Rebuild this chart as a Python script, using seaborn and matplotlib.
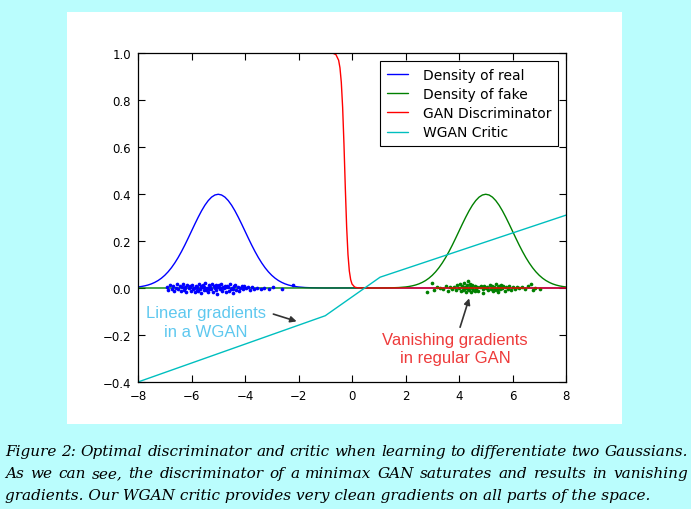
import matplotlib
matplotlib.use('Agg')
import matplotlib.pyplot as plt
import seaborn as sns
from matplotlib.patches import Rectangle

# ---------------- data ----------------
real_x = [-8.0, -7.875, -7.75, -7.625, -7.5, -7.375, -7.25, -7.125, -7.0, -6.875, -6.75, -6.625,
          -6.5, -6.375, -6.25, -6.125, -6.0, -5.875, -5.75, -5.625, -5.5, -5.375, -5.25, -5.125,
          -5.0, -4.875, -4.75, -4.625, -4.5, -4.375, -4.25, -4.125, -4.0, -3.875, -3.75, -3.625,
          -3.5, -3.375, -3.25, -3.125, -3.0, -2.875, -2.75, -2.625, -2.5, -2.375, -2.25, -2.125,
          -2.0, -1.75, -1.5, -1.25, -1.0, 8.0]
real_y = [0.0044, 0.0064, 0.0091, 0.0127, 0.0175, 0.0238, 0.0317, 0.0417, 0.0540, 0.0688, 0.0863, 0.1066,
          0.1295, 0.1550, 0.1826, 0.2119, 0.2420, 0.2721, 0.3011, 0.3282, 0.3521, 0.3718, 0.3867, 0.3958,
          0.3989, 0.3958, 0.3867, 0.3718, 0.3521, 0.3282, 0.3011, 0.2721, 0.2420, 0.2119, 0.1826, 0.1550,
          0.1295, 0.1066, 0.0863, 0.0688, 0.0540, 0.0417, 0.0317, 0.0238, 0.0175, 0.0127, 0.0091, 0.0064,
          0.0044, 0.0020, 0.0009, 0.0004, 0.0001, 0.0]

fake_x = [-8.0, 1.0, 1.25, 1.5, 1.75, 2.0, 2.125, 2.25, 2.375, 2.5, 2.625, 2.75, 2.875,
          3.0, 3.125, 3.25, 3.375, 3.5, 3.625, 3.75, 3.875, 4.0, 4.125, 4.25, 4.375,
          4.5, 4.625, 4.75, 4.875, 5.0, 5.125, 5.25, 5.375, 5.5, 5.625, 5.75, 5.875,
          6.0, 6.125, 6.25, 6.375, 6.5, 6.625, 6.75, 6.875, 7.0, 7.125, 7.25, 7.375,
          7.5, 7.625, 7.75, 7.875, 8.0]
fake_y = [0.0, 0.0001, 0.0004, 0.0009, 0.0020, 0.0044, 0.0064, 0.0091, 0.0127, 0.0175, 0.0238, 0.0317, 0.0417,
          0.0540, 0.0688, 0.0863, 0.1066, 0.1295, 0.1550, 0.1826, 0.2119, 0.2420, 0.2721, 0.3011, 0.3282,
          0.3521, 0.3718, 0.3867, 0.3958, 0.3989, 0.3958, 0.3867, 0.3718, 0.3521, 0.3282, 0.3011, 0.2721,
          0.2420, 0.2119, 0.1826, 0.1550, 0.1295, 0.1066, 0.0863, 0.0688, 0.0540, 0.0417, 0.0317, 0.0238,
          0.0175, 0.0127, 0.0091, 0.0064, 0.0044]

disc_x = [-8.0, -1.0, -0.8, -0.7, -0.6, -0.5, -0.45, -0.4, -0.35, -0.3, -0.25, -0.2, -0.15, -0.1, -0.05,
          0.0, 0.1, 0.2, 0.4, 8.0]
disc_y = [1.0, 1.0, 0.9996, 0.9984, 0.9930, 0.9692, 0.9370, 0.8754, 0.7685, 0.6106, 0.4256, 0.2592, 0.1419,
          0.0724, 0.0356, 0.0171, 0.0039, 0.0009, 0.0, 0.0]

critic_x = [-8.0, -1.0, 1.05, 8.0]
critic_y = [-0.40, -0.118, 0.046, 0.31]

real_samples = [
    (-6.93, 0.004), (-6.86, -0.008), (-6.80, 0.012), (-6.74, -0.003), (-6.69, 0.009), (-6.64, -0.014),
    (-6.58, 0.002), (-6.53, 0.015), (-6.49, -0.006), (-6.44, 0.007), (-6.40, -0.011), (-6.36, 0.003),
    (-6.31, 0.018), (-6.27, -0.009), (-6.23, 0.005), (-6.19, -0.017), (-6.15, 0.011), (-6.11, -0.002),
    (-6.07, 0.008), (-6.03, -0.013), (-5.99, 0.014), (-5.95, -0.005), (-5.92, 0.001), (-5.88, -0.019),
    (-5.84, 0.010), (-5.81, 0.006), (-5.77, -0.012), (-5.73, 0.016), (-5.70, -0.004), (-5.66, 0.009),
    (-5.63, -0.022), (-5.59, 0.003), (-5.56, 0.013), (-5.52, -0.007), (-5.49, 0.020), (-5.45, -0.010),
    (-5.42, 0.002), (-5.38, -0.015), (-5.35, 0.011), (-5.31, 0.005), (-5.28, -0.003), (-5.24, 0.017),
    (-5.21, -0.018), (-5.17, 0.007), (-5.14, 0.000), (-5.10, -0.009), (-5.07, 0.012), (-5.03, -0.025),
    (-5.00, 0.006), (-4.96, 0.014), (-4.93, -0.006), (-4.89, 0.019), (-4.86, -0.012), (-4.82, 0.004),
    (-4.79, -0.001), (-4.75, 0.010), (-4.71, -0.016), (-4.68, 0.008), (-4.64, 0.003), (-4.60, -0.011),
    (-4.56, 0.015), (-4.52, -0.004), (-4.48, 0.002), (-4.44, -0.020), (-4.40, 0.009), (-4.36, 0.012),
    (-4.32, -0.007), (-4.27, 0.005), (-4.23, -0.013), (-4.18, 0.001), (-4.13, 0.007), (-4.08, -0.005),
    (-4.02, 0.010), (-3.96, -0.002), (-3.90, 0.004), (-3.83, -0.008), (-3.75, 0.006), (-3.66, -0.003),
    (-3.55, 0.002), (-3.42, -0.006), (-3.28, 0.001), (-3.10, -0.004), (-2.95, 0.003), (-2.63, -0.003),
    (-2.20, 0.014), (-6.05, 0.004), (-5.80, -0.008), (-5.55, 0.006), (-5.33, -0.005), (-5.12, 0.003),
    (-4.90, -0.002), (-4.70, 0.005), (-4.45, -0.003), (-6.25, -0.002), (-5.02, 0.009),
]

fake_samples = [
    (2.82, -0.017), (2.98, 0.020), (3.05, -0.008), (3.18, 0.004), (3.30, 0.002), (3.42, -0.006),
    (3.50, 0.008), (3.58, -0.012), (3.66, 0.003), (3.74, -0.004), (3.82, 0.006), (3.88, -0.010),
    (3.94, 0.012), (4.00, -0.002), (4.05, 0.016), (4.09, -0.014), (4.13, 0.008), (4.17, -0.006),
    (4.20, 0.022), (4.23, 0.004), (4.26, -0.018), (4.29, 0.011), (4.32, -0.003), (4.35, 0.028),
    (4.38, -0.009), (4.41, 0.006), (4.44, -0.015), (4.47, 0.013), (4.50, 0.000), (4.54, -0.007),
    (4.58, 0.009), (4.62, -0.004), (4.67, 0.005), (4.72, -0.011), (4.77, 0.003), (4.82, 0.007),
    (4.88, -0.006), (4.94, 0.010), (5.00, -0.002), (5.05, 0.004), (5.10, -0.009), (5.15, 0.012),
    (5.19, -0.005), (5.23, 0.008), (5.27, -0.014), (5.31, 0.006), (5.35, -0.003), (5.38, 0.015),
    (5.41, -0.010), (5.44, 0.002), (5.47, -0.018), (5.50, 0.009), (5.54, -0.006), (5.58, 0.011),
    (5.62, -0.002), (5.66, 0.007), (5.71, -0.012), (5.76, 0.004), (5.82, -0.004), (5.88, 0.009),
    (5.94, -0.008), (6.00, 0.003), (6.08, -0.005), (6.16, 0.006), (6.25, -0.002), (6.34, 0.004),
    (6.45, -0.006), (6.58, 0.008), (6.70, 0.018), (6.76, -0.010), (6.85, 0.002), (7.02, -0.003),
    (4.90, -0.020), (4.25, 0.000), (5.45, 0.005), (4.40, 0.017), (5.30, -0.008), (4.15, -0.010),
    (5.60, 0.002), (4.60, -0.013),
]

series_labels = ['Density of real', 'Density of fake', 'GAN Discriminator', 'WGAN Critic']
x_ticks = [-8, -6, -4, -2, 0, 2, 4, 6, 8]
y_ticks = [-0.4, -0.2, 0.0, 0.2, 0.4, 0.6, 0.8, 1.0]

caption_lines = [
    "Figure 2: Optimal discriminator and critic when learning to differentiate two Gaussians.",
    "As we can see, the discriminator of a minimax GAN saturates and results in vanishing",
    "gradients. Our WGAN critic provides very clean gradients on all parts of the space.",
]
note_wgan = "Linear gradients\nin a WGAN"
note_gan = "Vanishing gradients\nin regular GAN"

# ---------------- figure ----------------
sns.set_theme(style='ticks')
plt.rcParams['font.family'] = ['DejaVu Sans']
plt.rcParams['axes.edgecolor'] = 'black'
plt.rcParams['xtick.color'] = 'black'
plt.rcParams['ytick.color'] = 'black'
plt.rcParams['text.color'] = 'black'

W, H = 691, 510
fig = plt.figure(figsize=(W / 100, H / 100), dpi=100, facecolor='#bafdfd')
fig.patches.append(Rectangle((67 / W, 1 - 425 / H), 555 / W, 412 / H, transform=fig.transFigure,
                             facecolor='white', edgecolor='none', zorder=-5))
ax = fig.add_axes([138 / W, 1 - 383 / H, 428 / W, 329 / H])
ax.set_zorder(1)
ax.set_facecolor('white')

sns.lineplot(x=real_x, y=real_y, color='#0000ff', lw=1, label=series_labels[0], ax=ax)
sns.lineplot(x=fake_x, y=fake_y, color='#008000', lw=1, label=series_labels[1], ax=ax)
sns.scatterplot(x=[p[0] for p in real_samples], y=[p[1] for p in real_samples], color='#0000ff',
                s=7, linewidth=0, ax=ax, legend=False, zorder=3)
sns.scatterplot(x=[p[0] for p in fake_samples], y=[p[1] for p in fake_samples], color='#008000',
                s=7, linewidth=0, ax=ax, legend=False, zorder=2.1)
sns.lineplot(x=disc_x, y=disc_y, color='#ff0000', lw=1, label=series_labels[2], ax=ax, zorder=2.5)
sns.lineplot(x=critic_x, y=critic_y, color='#00bfbf', lw=1, label=series_labels[3], ax=ax, zorder=2.6)

ax.set_xlim(-8, 8)
ax.set_ylim(-0.4, 1.0)
ax.set_xticks(x_ticks)
ax.set_yticks(y_ticks)
ax.set_xticklabels([f"\u2212{abs(v)}" if v < 0 else f"{v}" for v in x_ticks])
ax.set_yticklabels([f"\u2212{abs(v):.1f}" if v < 0 else f"{v:.1f}" for v in y_ticks])
ax.tick_params(direction='in', top=True, right=True, length=5, width=0.8, labelsize=8.5, pad=5)
for s in ax.spines.values():
    s.set_color('black')
    s.set_linewidth(0.9)
    s.set_zorder(5)

leg = ax.legend(loc='upper right', fontsize=10, frameon=True, fancybox=False, edgecolor='black',
                framealpha=1, handlelength=1.5, handletextpad=1.1, borderaxespad=0.55,
                borderpad=0.5, labelspacing=0.38)
leg.get_frame().set_linewidth(0.8)
for line in leg.get_lines():
    line.set_linewidth(1)

ax.annotate('', xy=(-2.07, -0.142), xytext=(-2.94, -0.111),
            arrowprops=dict(arrowstyle='-|>', color='#333333', lw=1.2, mutation_scale=9,
                            shrinkA=0, shrinkB=0))
ax.text(-5.46, -0.145, note_wgan, ha='center', va='center', color='#5ec8ef', fontsize=12,
        family='Liberation Sans', linespacing=1.3)
ax.annotate('', xy=(4.38, -0.044), xytext=(4.04, -0.167),
            arrowprops=dict(arrowstyle='-|>', color='#333333', lw=1.2, mutation_scale=9,
                            shrinkA=0, shrinkB=0))
ax.text(3.85, -0.257, note_gan, ha='center', va='center', color='#ee3b3b', fontsize=12,
        family='Liberation Sans', linespacing=1.3)

# ---------------- caption (justified) ----------------
fig.canvas.draw()
renderer = fig.canvas.get_renderer()
cap_font = dict(family='DejaVu Serif', style='italic')
left_px, right_px = 5, 688
target = right_px - left_px
probe = fig.text(0, 0, caption_lines[0], fontsize=12, **cap_font)
w0 = probe.get_window_extent(renderer).width
probe.remove()
fs = 12 * target / w0 * 0.995
baselines = [456, 478, 500]
for i, line in enumerate(caption_lines):
    yb = 1 - baselines[i] / H
    if i < 2:
        words = line.split(' ')
        items = []
        for wd in words:
            t = fig.text(0, yb, wd, fontsize=fs, va='baseline', ha='left', **cap_font)
            items.append((t, t.get_window_extent(renderer).width))
        total = sum(w for _, w in items)
        gap = (target - total) / (len(items) - 1)
        x = left_px
        for t, w in items:
            t.set_x(x / W)
            x += w + gap
    else:
        fig.text(left_px / W, yb, line, fontsize=fs, va='baseline', ha='left', **cap_font)

fig.savefig('out.png', dpi=100, facecolor=fig.get_facecolor())
